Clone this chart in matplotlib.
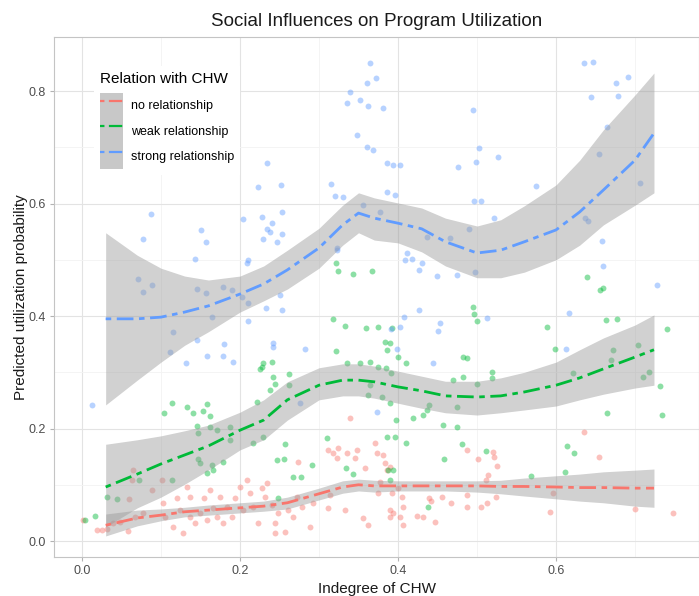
import matplotlib
matplotlib.use("Agg")
import matplotlib.pyplot as plt
from matplotlib.lines import Line2D
from matplotlib.patches import Patch
import numpy as np

plt.rcParams['font.family'] = ['Liberation Sans', 'DejaVu Sans']

# ---------------- data ----------------
groups = ["no relationship", "weak relationship", "strong relationship"]
colors = ["#F8766D", "#00BA38", "#619CFF"]

# scatter points
no_x = [0.001, 0.019, 0.025, 0.032, 0.039, 0.048, 0.058, 0.065, 0.063, 0.059, 0.067, 0.077, 0.089, 0.101,
        0.103, 0.105, 0.115, 0.120, 0.124, 0.133, 0.137, 0.137, 0.143, 0.149, 0.154, 0.158, 0.162, 0.166,
        0.171, 0.175, 0.178, 0.184, 0.190, 0.194, 0.200, 0.204, 0.209, 0.213, 0.216, 0.223, 0.228, 0.232,
        0.234, 0.241, 0.244, 0.244, 0.248, 0.257, 0.261, 0.267, 0.272, 0.273, 0.278, 0.289, 0.292, 0.311,
        0.314, 0.318, 0.323, 0.324, 0.311, 0.333, 0.335, 0.339, 0.346, 0.348, 0.358, 0.362, 0.371, 0.373,
        0.375, 0.377, 0.384, 0.386, 0.392, 0.394, 0.400, 0.356, 0.128, 0.381, 0.390, 0.405, 0.406, 0.390,
        0.390, 0.403, 0.406, 0.424, 0.432, 0.439, 0.442, 0.447, 0.456, 0.467, 0.487, 0.501, 0.520, 0.522,
        0.525, 0.514, 0.511, 0.487, 0.487, 0.505, 0.513, 0.524, 0.592, 0.596, 0.635, 0.654, 0.700, 0.748]
no_y = [0.037, 0.020, 0.020, 0.021, 0.032, 0.034, 0.018, 0.126, 0.108, 0.075, 0.043, 0.050, 0.091, 0.108,
        0.068, 0.043, 0.025, 0.076, 0.055, 0.096, 0.078, 0.043, 0.032, 0.050, 0.076, 0.037, 0.091, 0.059,
        0.043, 0.078, 0.032, 0.060, 0.043, 0.076, 0.096, 0.055, 0.108, 0.085, 0.060, 0.032, 0.094, 0.078,
        0.103, 0.064, 0.032, 0.014, 0.050, 0.016, 0.055, 0.043, 0.078, 0.140, 0.060, 0.025, 0.068, 0.162,
        0.082, 0.156, 0.148, 0.165, 0.059, 0.055, 0.156, 0.219, 0.148, 0.162, 0.130, 0.028, 0.174, 0.156,
        0.085, 0.105, 0.139, 0.126, 0.085, 0.050, 0.094, 0.041, 0.014, 0.153, 0.132, 0.078, 0.060, 0.055,
        0.043, 0.043, 0.028, 0.044, 0.043, 0.076, 0.071, 0.034, 0.078, 0.068, 0.162, 0.146, 0.158, 0.149,
        0.133, 0.117, 0.108, 0.082, 0.060, 0.060, 0.068, 0.078, 0.052, 0.085, 0.194, 0.149, 0.057, 0.050]

weak_x = [0.322, 0.324, 0.343, 0.367, 0.318, 0.333, 0.360, 0.375, 0.392, 0.322, 0.386, 0.390, 0.400, 0.335,
          0.352, 0.365, 0.375, 0.385, 0.229, 0.228, 0.225, 0.241, 0.242, 0.244, 0.238, 0.262, 0.262, 0.222,
          0.365, 0.362, 0.380, 0.390, 0.397, 0.386, 0.396, 0.114, 0.104, 0.133, 0.141, 0.153, 0.158, 0.162,
          0.146, 0.147, 0.162, 0.171, 0.187, 0.187, 0.216, 0.229, 0.257, 0.247, 0.256, 0.147, 0.149, 0.178,
          0.165, 0.158, 0.166, 0.267, 0.277, 0.291, 0.310, 0.334, 0.343, 0.032, 0.044, 0.072, 0.114, 0.248,
          0.016, 0.004, 0.387, 0.394, 0.390, 0.639, 0.656, 0.660, 0.495, 0.496, 0.500, 0.589, 0.663, 0.677,
          0.741, 0.599, 0.384, 0.410, 0.482, 0.487, 0.672, 0.670, 0.704, 0.391, 0.470, 0.482, 0.519, 0.519,
          0.500, 0.622, 0.718, 0.710, 0.732, 0.439, 0.437, 0.432, 0.419, 0.475, 0.665, 0.734, 0.457, 0.475,
          0.410, 0.481, 0.614, 0.623, 0.511, 0.458, 0.611, 0.568, 0.438]
weak_y = [0.494, 0.480, 0.475, 0.480, 0.395, 0.382, 0.379, 0.380, 0.379, 0.338, 0.340, 0.352, 0.327, 0.316,
          0.316, 0.318, 0.309, 0.308, 0.316, 0.309, 0.306, 0.318, 0.292, 0.279, 0.268, 0.297, 0.277, 0.247,
          0.277, 0.260, 0.256, 0.245, 0.215, 0.185, 0.185, 0.245, 0.228, 0.238, 0.228, 0.231, 0.244, 0.222,
          0.204, 0.192, 0.203, 0.197, 0.203, 0.180, 0.174, 0.185, 0.172, 0.144, 0.146, 0.146, 0.139, 0.140,
          0.135, 0.121, 0.126, 0.114, 0.114, 0.135, 0.183, 0.130, 0.119, 0.078, 0.075, 0.108, 0.108, 0.076,
          0.044, 0.037, 0.126, 0.126, 0.108, 0.469, 0.446, 0.450, 0.416, 0.404, 0.391, 0.380, 0.393, 0.395,
          0.377, 0.341, 0.354, 0.316, 0.327, 0.325, 0.340, 0.322, 0.349, 0.299, 0.286, 0.292, 0.300, 0.290,
          0.279, 0.299, 0.300, 0.292, 0.276, 0.242, 0.233, 0.224, 0.219, 0.238, 0.228, 0.224, 0.206, 0.203,
          0.174, 0.172, 0.169, 0.156, 0.160, 0.146, 0.123, 0.116, 0.060]

strong_x = [0.365, 0.361, 0.372, 0.339, 0.335, 0.352, 0.362, 0.381, 0.348, 0.361, 0.368, 0.234, 0.386, 0.394,
            0.223, 0.252, 0.315, 0.320, 0.330, 0.386, 0.396, 0.087, 0.228, 0.253, 0.204, 0.241, 0.234, 0.238,
            0.253, 0.077, 0.151, 0.157, 0.229, 0.247, 0.143, 0.210, 0.323, 0.356, 0.377, 0.636, 0.647, 0.676,
            0.691, 0.644, 0.679, 0.665, 0.495, 0.503, 0.527, 0.476, 0.499, 0.403, 0.575, 0.496, 0.505, 0.522,
            0.655, 0.706, 0.637, 0.641, 0.490, 0.437, 0.466, 0.658, 0.411, 0.409, 0.418, 0.430, 0.427, 0.449,
            0.475, 0.497, 0.659, 0.209, 0.071, 0.089, 0.077, 0.146, 0.157, 0.178, 0.190, 0.203, 0.210, 0.233,
            0.253, 0.251, 0.165, 0.210, 0.115, 0.146, 0.180, 0.242, 0.242, 0.282, 0.111, 0.158, 0.178, 0.132,
            0.191, 0.013, 0.276, 0.373, 0.323, 0.427, 0.408, 0.391, 0.403, 0.453, 0.451, 0.513, 0.616, 0.399,
            0.444, 0.613, 0.728]
strong_y = [0.850, 0.814, 0.823, 0.798, 0.779, 0.784, 0.773, 0.770, 0.722, 0.700, 0.695, 0.672, 0.672, 0.668,
            0.629, 0.633, 0.635, 0.613, 0.612, 0.620, 0.615, 0.581, 0.576, 0.585, 0.572, 0.565, 0.555, 0.549,
            0.546, 0.537, 0.553, 0.532, 0.537, 0.532, 0.501, 0.500, 0.521, 0.597, 0.585, 0.850, 0.852, 0.814,
            0.825, 0.789, 0.791, 0.736, 0.766, 0.699, 0.683, 0.665, 0.674, 0.668, 0.631, 0.605, 0.605, 0.574,
            0.688, 0.637, 0.574, 0.569, 0.555, 0.541, 0.539, 0.533, 0.512, 0.500, 0.501, 0.494, 0.482, 0.471,
            0.473, 0.478, 0.489, 0.494, 0.466, 0.455, 0.443, 0.448, 0.441, 0.452, 0.446, 0.434, 0.423, 0.414,
            0.411, 0.437, 0.398, 0.391, 0.372, 0.357, 0.350, 0.352, 0.345, 0.341, 0.336, 0.329, 0.329, 0.316,
            0.318, 0.242, 0.245, 0.229, 0.517, 0.411, 0.398, 0.377, 0.380, 0.388, 0.373, 0.396, 0.405, 0.341,
            0.316, 0.341, 0.455]

# smoothed fits
fit_x = [0.03, 0.07, 0.10, 0.13, 0.16, 0.20, 0.23, 0.26, 0.30, 0.33, 0.35, 0.37, 0.40, 0.43, 0.46, 0.50,
         0.53, 0.56, 0.60, 0.63, 0.66, 0.70, 0.724]
no_fit = [0.028, 0.041, 0.046, 0.052, 0.055, 0.059, 0.062, 0.068, 0.084, 0.096, 0.100, 0.098, 0.098, 0.098,
          0.098, 0.098, 0.097, 0.097, 0.096, 0.095, 0.095, 0.094, 0.094]
no_hi = [0.048, 0.055, 0.057, 0.060, 0.064, 0.068, 0.071, 0.078, 0.094, 0.107, 0.110, 0.108, 0.107, 0.107,
         0.107, 0.107, 0.108, 0.112, 0.116, 0.119, 0.123, 0.126, 0.128]
no_lo = [0.009, 0.027, 0.036, 0.043, 0.046, 0.050, 0.053, 0.057, 0.073, 0.085, 0.089, 0.087, 0.089, 0.089,
         0.089, 0.087, 0.084, 0.080, 0.075, 0.071, 0.068, 0.062, 0.060]
weak_fit = [0.096, 0.119, 0.137, 0.153, 0.169, 0.197, 0.215, 0.251, 0.277, 0.286, 0.286, 0.283, 0.274, 0.267,
            0.258, 0.256, 0.258, 0.265, 0.277, 0.290, 0.306, 0.327, 0.340]
weak_hi = [0.172, 0.180, 0.187, 0.196, 0.206, 0.229, 0.251, 0.283, 0.308, 0.315, 0.315, 0.311, 0.302, 0.293,
           0.284, 0.284, 0.290, 0.300, 0.318, 0.340, 0.361, 0.384, 0.402]
weak_lo = [0.025, 0.059, 0.078, 0.101, 0.126, 0.162, 0.180, 0.215, 0.251, 0.258, 0.258, 0.254, 0.245, 0.236,
           0.228, 0.224, 0.228, 0.233, 0.240, 0.251, 0.261, 0.272, 0.277]
strong_fit = [0.395, 0.395, 0.398, 0.407, 0.418, 0.439, 0.457, 0.482, 0.521, 0.562, 0.583, 0.574, 0.565, 0.555,
              0.532, 0.512, 0.517, 0.532, 0.553, 0.585, 0.624, 0.677, 0.725]
strong_hi = [0.548, 0.508, 0.485, 0.471, 0.464, 0.471, 0.489, 0.517, 0.556, 0.597, 0.619, 0.610, 0.601, 0.592,
             0.574, 0.560, 0.571, 0.596, 0.633, 0.677, 0.731, 0.793, 0.832]
strong_lo = [0.242, 0.286, 0.318, 0.348, 0.372, 0.407, 0.427, 0.448, 0.485, 0.526, 0.548, 0.535, 0.530, 0.514,
             0.489, 0.468, 0.468, 0.478, 0.500, 0.526, 0.562, 0.597, 0.619]

x_ticks = [0.0, 0.2, 0.4, 0.6]
y_ticks = [0.0, 0.2, 0.4, 0.6, 0.8]

# ---------------- plot ----------------
fig = plt.figure(figsize=(6.99, 5.96), dpi=100)
ax = fig.add_axes([54 / 699, 39 / 596, 645 / 699, 520 / 596])

pts = [(no_x, no_y), (weak_x, weak_y), (strong_x, strong_y)]
fits = [(no_fit, no_hi, no_lo), (weak_fit, weak_hi, weak_lo), (strong_fit, strong_hi, strong_lo)]

for (px, py), c in zip(pts, colors):
    ax.scatter(px, py, s=18, color=c, alpha=0.45, linewidths=0, zorder=2)

dash = (2, 2, 6, 2)
for (f, hi, lo), c in zip(fits, colors):
    ax.fill_between(fit_x, lo, hi, color="#999999", alpha=0.45, linewidth=0, zorder=3)
for (f, hi, lo), c in zip(fits, colors):
    ax.plot(fit_x, f, color=c, lw=2.0, dashes=dash, zorder=4)

ax.set_xlim(-0.0354, 0.781)
ax.set_ylim(-0.0284, 0.896)
ax.set_xticks(x_ticks)
ax.set_yticks(y_ticks)
ax.set_xticks([0.1, 0.3, 0.5, 0.7], minor=True)
ax.set_yticks([0.1, 0.3, 0.5, 0.7], minor=True)
ax.set_xticklabels([f"{v:.1f}" for v in x_ticks])
ax.set_yticklabels([f"{v:.1f}" for v in y_ticks])
ax.grid(which="major", color="#E3E3E3", lw=0.8, zorder=0)
ax.grid(which="minor", color="#F3F3F3", lw=0.6, zorder=0)
ax.set_axisbelow(True)
ax.tick_params(which="major", length=3, color="#B3B3B3", labelcolor="#4D4D4D", labelsize=9, pad=3)
ax.tick_params(which="minor", length=0)
for s in ax.spines.values():
    s.set_color("#C4C4C4")
    s.set_linewidth(0.8)

ax.set_xlabel("Indegree of CHW", fontsize=11, color="#1A1A1A", labelpad=3)
ax.set_ylabel("Predicted utilization probability", fontsize=11, color="#1A1A1A", labelpad=0.5)
ax.set_title("Social Influences on Program Utilization", fontsize=13.5, color="#1A1A1A", pad=8)

handles = []
for c in colors:
    handles.append((Patch(facecolor="#C8C8C8", edgecolor="none"),
                    Line2D([], [], color=c, lw=1.6, dashes=dash)))
leg = ax.legend(handles, groups, title="Relation with CHW", loc="upper left",
                bbox_to_anchor=(0.052, 0.957), fontsize=9, title_fontsize=11,
                frameon=True, fancybox=False, framealpha=1, edgecolor="none",
                handlelength=1.85, handleheight=2.75, labelspacing=0.0, handletextpad=0.6,
                borderpad=0.5)
leg._legend_box.align = "left"
leg._legend_box.sep = 5
leg.get_frame().set_facecolor("white")

fig.savefig("out.png", dpi=100)
